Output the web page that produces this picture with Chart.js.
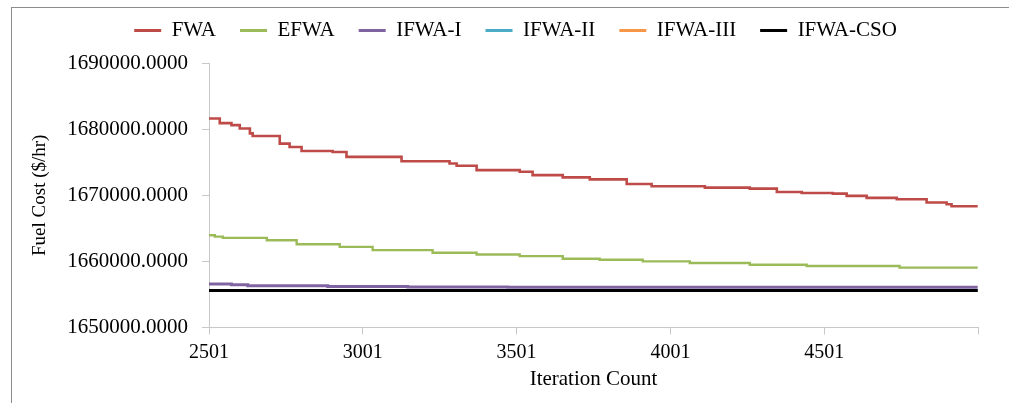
<!DOCTYPE html>
<html>
<head>
<meta charset="utf-8">
<script src="https://cdn.jsdelivr.net/npm/chart.js@4.4.1/dist/chart.umd.min.js"></script>
<style>
  body { margin: 0; background: #fff; }
  #wrap { position: relative; width: 1009px; height: 403px; }
  #frame {
    position: absolute; left: 11px; top: 7px; right: -5px; bottom: -5px;
    border-top: 1.5px solid #8c8c8c; border-left: 1.5px solid #8c8c8c;
  }
  #fuelChart { position: absolute; left: 0; top: 0; }
</style>
</head>
<body>
<div id="wrap">
  <div id="frame"></div>
  <canvas id="fuelChart" width="1009" height="403"></canvas>
</div>
<script>
// iteration where each value starts, and the fuel cost from there on
const fwaIter = [2501, 2536, 2574, 2601, 2634, 2643, 2731, 2763, 2802, 2903, 2948, 3127, 3283, 3306, 3371, 3511, 3553, 3651, 3739, 3859, 3940, 4113, 4259, 4347, 4428, 4529, 4574, 4639, 4737, 4834, 4899, 4915, 5000];
const fwaCost = [1681600, 1680900, 1680600, 1680100, 1679350, 1678950, 1677800, 1677300, 1676700, 1676550, 1675800, 1675150, 1674800, 1674450, 1673800, 1673550, 1673050, 1672700, 1672400, 1671700, 1671350, 1671150, 1671000, 1670500, 1670350, 1670250, 1669900, 1669600, 1669400, 1668900, 1668650, 1668330, 1668330];

const efwaIter = [2501, 2520, 2546, 2689, 2786, 2926, 3033, 3228, 3371, 3511, 3651, 3771, 3911, 4064, 4259, 4444, 4746, 5000];
const efwaCost = [1663950, 1663750, 1663550, 1663200, 1662600, 1662200, 1661700, 1661300, 1661050, 1660800, 1660400, 1660250, 1660000, 1659750, 1659500, 1659300, 1659050, 1659050];

const ifwa1Iter = [2501, 2574, 2627, 2887, 3147, 3472, 5000];
const ifwa1Cost = [1656570, 1656450, 1656330, 1656200, 1656120, 1656080, 1656080];

const ifwa2Iter = [2501, 5000];
const ifwa2Cost = [1655600, 1655600];
const ifwa3Iter = [2501, 5000];
const ifwa3Cost = [1655600, 1655600];
const csoIter = [2501, 5000];
const csoCost = [1655600, 1655600];

const xTicks = [2501, 3001, 3501, 4001, 4501, 5001];
const xTickLabels = ["2501", "3001", "3501", "4001", "4501", ""];

const pts = (xs, ys) => xs.map((x, i) => ({ x: x, y: ys[i] }));
const serif = "'Liberation Serif', 'Times New Roman', serif";

function series(label, xs, ys, color, width, order) {
  return {
    label: label,
    data: pts(xs, ys),
    borderColor: color,
    backgroundColor: color,
    borderWidth: width,
    pointRadius: 0,
    stepped: true,
    fill: false,
    order: order,
  };
}

const data = {
  datasets: [
    series("FWA", fwaIter, fwaCost, "#BE4B48", 2.6, 1),
    series("EFWA", efwaIter, efwaCost, "#9BBB59", 2.4, 1),
    series("IFWA-I", ifwa1Iter, ifwa1Cost, "#8064A2", 3, 1),
    series("IFWA-II", ifwa2Iter, ifwa2Cost, "#4BACC6", 3, 1),
    series("IFWA-III", ifwa3Iter, ifwa3Cost, "#F79646", 3, 1),
    series("IFWA-CSO", csoIter, csoCost, "#000000", 3, 0),
  ],
};

// keep the legend box a fixed height so the plot starts where it should,
// and nudge it right a little so it sits like the original
const legendHeight = {
  id: "legendHeight",
  beforeInit(chart) {
    const fit = chart.legend.fit;
    chart.legend.fit = function () {
      fit.bind(chart.legend)();
      this.height = 67;
    };
  },
  beforeDraw(chart) {
    chart.legend.left += 14;
    chart.legend.right += 14;
  },
  afterDraw(chart) {
    chart.legend.left -= 14;
    chart.legend.right -= 14;
  },
};

const config = {
  type: "line",
  data: data,
  plugins: [legendHeight],
  options: {
    responsive: false,
    animation: false,
    layout: { padding: { left: 25, right: 31, top: -4, bottom: 0 } },
    plugins: {
      tooltip: { enabled: false },
      legend: {
        position: "top",
        labels: {
          font: { family: serif, size: 21 },
          color: "#000",
          boxWidth: 27,
          boxHeight: 3,
          padding: 24,
          sort: (a, b) => a.datasetIndex - b.datasetIndex,
          generateLabels: (chart) =>
            chart.data.datasets.map((ds, i) => ({
              text: ds.label,
              fillStyle: ds.borderColor,
              strokeStyle: ds.borderColor,
              lineWidth: 0,
              datasetIndex: i,
              fontColor: "#000",
            })),
        },
      },
    },
    scales: {
      x: {
        type: "linear",
        min: 2501,
        max: 5001,
        afterBuildTicks: (s) => { s.ticks = xTicks.map((v) => ({ value: v })); },
        afterFit: (s) => { s.height = 75.5; },
        ticks: {
          autoSkip: false,
          maxRotation: 0,
          padding: 6,
          color: "#000",
          font: { family: serif, size: 20 },
          callback: (v) => xTickLabels[xTicks.indexOf(v)],
        },
        grid: { drawOnChartArea: false, tickLength: 7, color: "#C8C8C8" },
        border: { color: "#C8C8C8" },
        title: {
          display: true,
          text: "Iteration Count",
          color: "#000",
          font: { family: serif, size: 21 },
          padding: { top: 0, bottom: 11 },
        },
      },
      y: {
        min: 1650000,
        max: 1690000,
        afterFit: (s) => { s.width = 184; },
        ticks: {
          stepSize: 10000,
          padding: 14,
          color: "#000",
          font: { family: serif, size: 21 },
          callback: (v) => v.toFixed(4),
        },
        grid: { drawOnChartArea: false, tickLength: 7, color: "#C8C8C8" },
        border: { color: "#C8C8C8" },
        title: {
          display: true,
          text: "Fuel Cost ($/hr)",
          color: "#000",
          font: { family: serif, size: 19 },
          padding: { top: 4, bottom: 4 },
        },
      },
    },
  },
};

const fuelChart = new Chart(document.getElementById("fuelChart"), config);
</script>
</body>
</html>
